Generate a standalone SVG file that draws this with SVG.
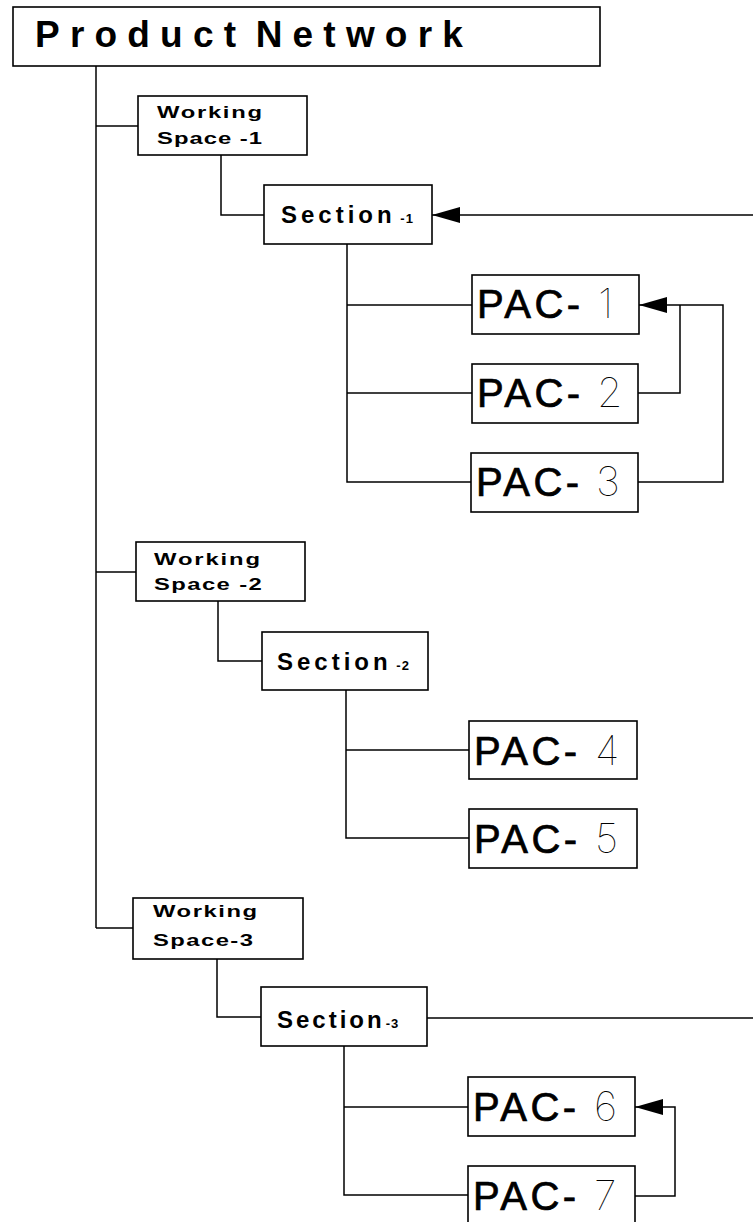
<svg xmlns="http://www.w3.org/2000/svg" width="753" height="1222" viewBox="0 0 753 1222">
<defs>
<marker id="ah" markerWidth="28" markerHeight="16" refX="28" refY="8" orient="auto" markerUnits="userSpaceOnUse"><path d="M0,0 L28,8 L0,16 Z" fill="#000"/></marker>
</defs>
<style>
.box{fill:#fff;stroke:#000;stroke-width:1.6}
.ln{fill:none;stroke:#000;stroke-width:1.5}
.title{font-family:"Liberation Sans",Arial,sans-serif;font-weight:bold;font-size:37px;letter-spacing:10.2px;word-spacing:-11px}
.ws{font-family:"Liberation Sans",Arial,sans-serif;font-weight:bold;font-size:17px}
.sec{font-family:"Liberation Sans",Arial,sans-serif;font-weight:bold;font-size:24px;letter-spacing:4px}
.sub{font-size:13px;letter-spacing:1px}
.pac{font-family:"Liberation Sans",Arial,sans-serif;font-size:40px;letter-spacing:3.5px;stroke:#000;stroke-width:0.7px}
.dig{font-family:Inter,"DejaVu Sans",sans-serif;font-weight:100;font-size:41px;stroke:none;fill:#000}
</style>
<rect width="753" height="1222" fill="#fff"/>
<g id="connectors" class="ln">
<path d="M96,66 V928"/>
<path d="M96,126 H138"/>
<path d="M96,572 H136"/>
<path d="M96,928 H133"/>
<path d="M221,155 V215 H264"/>
<path d="M753,215 H432" marker-end="url(#ah)"/>
<path d="M347,244 V482 H471"/>
<path d="M347,305 H472"/>
<path d="M347,393 H472"/>
<path d="M638,393 H680 V305"/>
<path d="M638,482 H723 V305 H639" marker-end="url(#ah)"/>
<path d="M218,601 V661 H262"/>
<path d="M346,690 V838 H469"/>
<path d="M346,750 H469"/>
<path d="M217,959 V1017 H261"/>
<path d="M427,1018 H753"/>
<path d="M344,1046 V1195 H468"/>
<path d="M344,1107 H468"/>
<path d="M635,1196 H675 V1107 H635" marker-end="url(#ah)"/>
</g>
<g id="product-network">
<rect class="box" x="13" y="7" width="587" height="59"/>
<text class="title" x="35" y="47">Product Network</text>
</g>
<g id="working-space-1">
<rect class="box" x="138" y="96" width="169" height="59"/>
<text class="ws" transform="translate(157,118) scale(1.4,1)" textLength="75" lengthAdjust="spacing">Working</text>
<text class="ws" transform="translate(157,144) scale(1.4,1)" textLength="75" lengthAdjust="spacing">Space -1</text>
</g>
<g id="section-1">
<rect class="box" x="264" y="185" width="168" height="59"/>
<text class="sec" x="281" y="223">Section<tspan class="sub"> -1</tspan></text>
</g>
<g id="pac-1">
<rect class="box" x="472" y="275" width="167" height="59"/>
<text class="pac" x="477" y="318">PAC-<tspan class="dig" x="598">1</tspan></text>
</g>
<g id="pac-2">
<rect class="box" x="472" y="364" width="166" height="59"/>
<text class="pac" x="477" y="407">PAC-<tspan class="dig" x="597">2</tspan></text>
</g>
<g id="pac-3">
<rect class="box" x="471" y="453" width="167" height="59"/>
<text class="pac" x="476" y="496">PAC-<tspan class="dig" x="596">3</tspan></text>
</g>
<g id="working-space-2">
<rect class="box" x="136" y="542" width="169" height="59"/>
<text class="ws" transform="translate(154,565) scale(1.4,1)" textLength="75.7" lengthAdjust="spacing">Working</text>
<text class="ws" transform="translate(154,590) scale(1.4,1)" textLength="77" lengthAdjust="spacing">Space -2</text>
</g>
<g id="section-2">
<rect class="box" x="262" y="632" width="166" height="58"/>
<text class="sec" x="277" y="670">Section<tspan class="sub"> -2</tspan></text>
</g>
<g id="pac-4">
<rect class="box" x="469" y="721" width="168" height="58"/>
<text class="pac" x="474" y="765">PAC-<tspan class="dig" x="595">4</tspan></text>
</g>
<g id="pac-5">
<rect class="box" x="469" y="809" width="168" height="59"/>
<text class="pac" x="474" y="853">PAC-<tspan class="dig" x="595">5</tspan></text>
</g>
<g id="working-space-3">
<rect class="box" x="133" y="898" width="170" height="61"/>
<text class="ws" transform="translate(153,917) scale(1.4,1)" textLength="74.3" lengthAdjust="spacing">Working</text>
<text class="ws" transform="translate(153,946) scale(1.4,1)" textLength="71.4" lengthAdjust="spacing">Space-3</text>
</g>
<g id="section-3">
<rect class="box" x="261" y="987" width="166" height="59"/>
<text class="sec" x="277" y="1028" style="letter-spacing:3px">Section<tspan class="sub" dx="1">-3</tspan></text>
</g>
<g id="pac-6">
<rect class="box" x="468" y="1077" width="167" height="59"/>
<text class="pac" x="473" y="1121">PAC-<tspan class="dig" x="594">6</tspan></text>
</g>
<g id="pac-7">
<rect class="box" x="468" y="1166" width="167" height="62"/>
<text class="pac" x="473" y="1210">PAC-<tspan class="dig" x="594">7</tspan></text>
</g>
</svg>
